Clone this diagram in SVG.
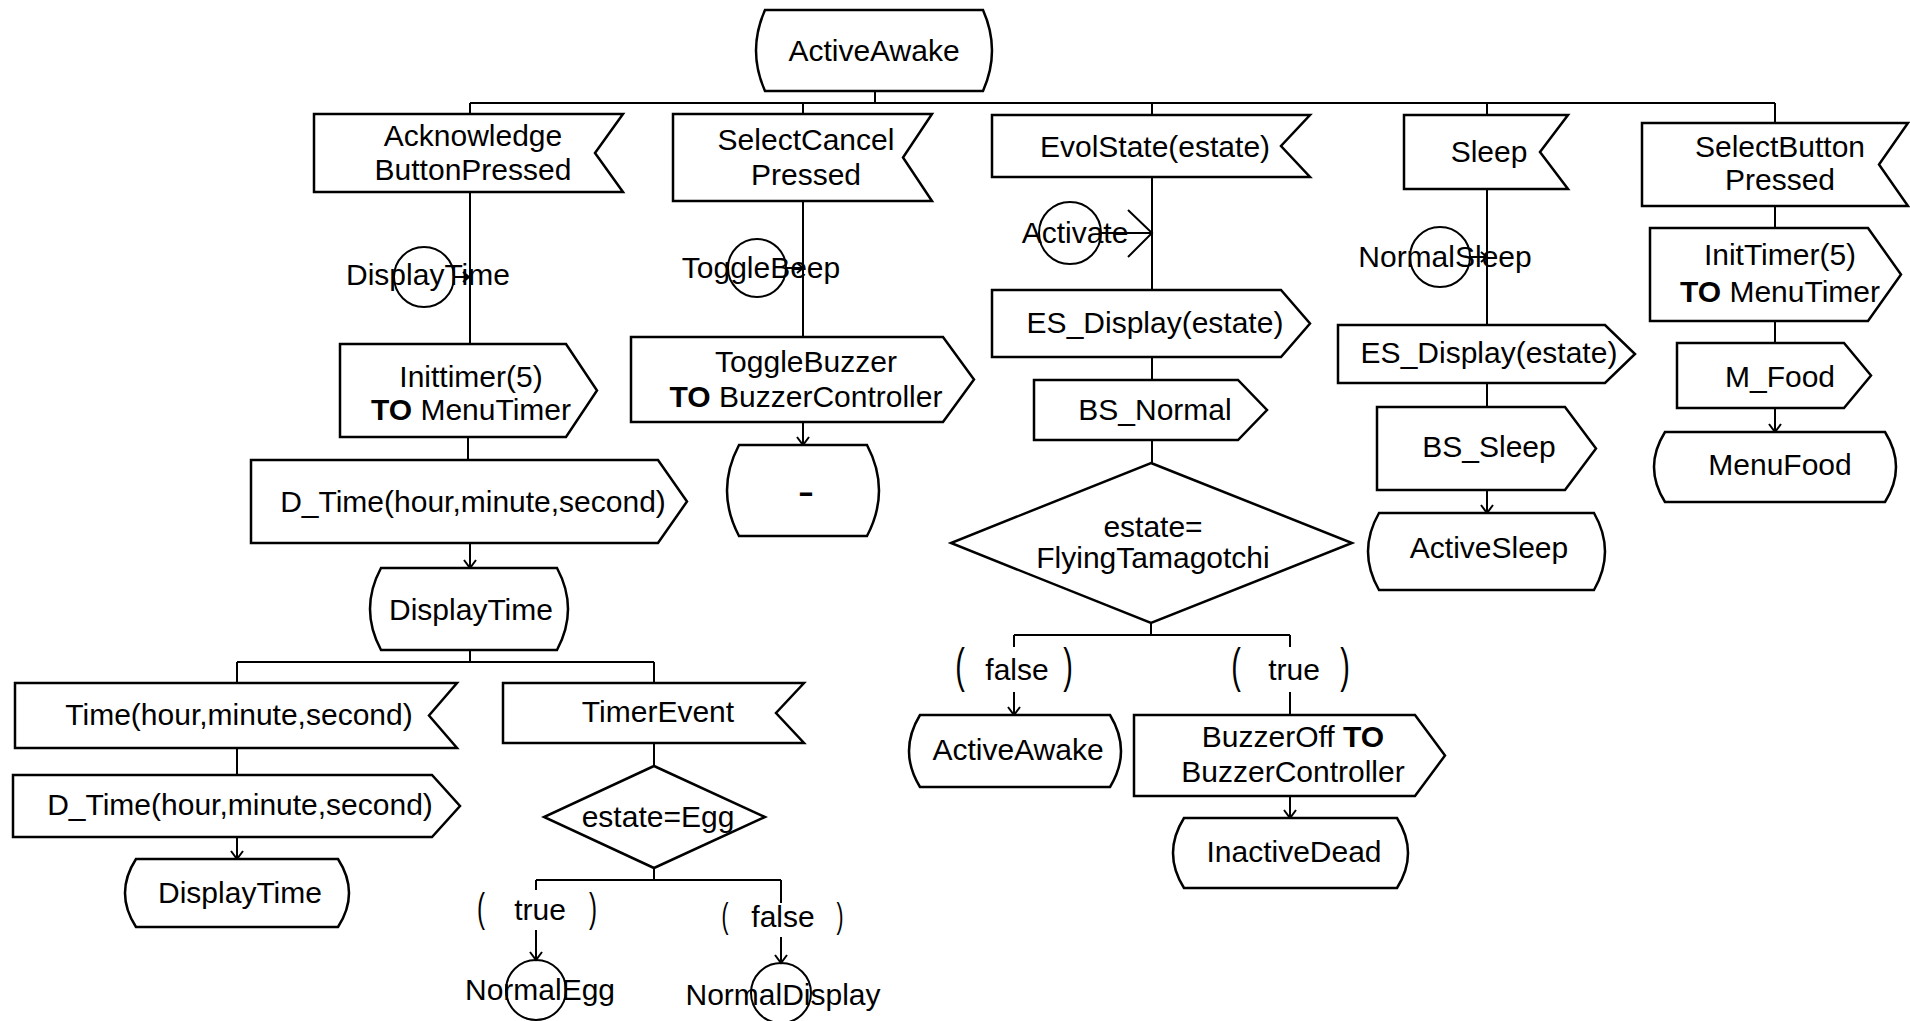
<svg xmlns="http://www.w3.org/2000/svg" width="1910" height="1021" viewBox="0 0 1910 1021">
<style>
.s{fill:#fff;stroke:#000;stroke-width:2.5;stroke-linejoin:miter}
.c{fill:none;stroke:#000;stroke-width:2}
.ln{fill:none;stroke:#000;stroke-width:2}
.t{font-family:"Liberation Sans",Arial,sans-serif;font-size:30px;text-anchor:middle;fill:#000}
.b{font-weight:bold}
.p{font-family:"Liberation Sans",Arial,sans-serif;text-anchor:middle;fill:#000}
</style>
<defs>
<marker id="arr" markerUnits="userSpaceOnUse" markerWidth="20" markerHeight="20" refX="10" refY="10" orient="auto">
<path d="M2,4 L10,10 L2,16" fill="none" stroke="#000" stroke-width="2"/>
</marker>
<marker id="arrs" markerUnits="userSpaceOnUse" markerWidth="20" markerHeight="20" refX="10" refY="10" orient="auto">
<path d="M4,5 L10,10 L4,15" fill="none" stroke="#000" stroke-width="2"/>
</marker>
</defs>
<rect width="1910" height="1021" fill="#fff"/>

<g id="connectors">
<path class="ln" d="M875,91 V103 M470,103 H1775 M470,103 V114 M803,103 V114 M1152,103 V115 M1487,103 V115 M1775,103 V123"/>
<path class="ln" d="M470,192 V344"/>
<path class="ln" d="M454,277 H469" marker-end="url(#arrs)"/>
<path class="ln" d="M468,437 V460"/>
<path class="ln" d="M470,543 V568" marker-end="url(#arr)"/>
<path class="ln" d="M470,650 V662 M237,662 H654 M237,662 V683 M654,662 V683"/>
<path class="ln" d="M237,748 V775"/>
<path class="ln" d="M237,837 V859" marker-end="url(#arr)"/>
<path class="ln" d="M654,743 V766 M654,868 V880 M536,880 H781 M536,880 V890 M781,880 V903"/>
<path class="ln" d="M536,930 V960" marker-end="url(#arr)"/>
<path class="ln" d="M781,937 V963" marker-end="url(#arr)"/>
<path class="ln" d="M803,201 V337"/>
<path class="ln" d="M787,268 H803" marker-end="url(#arrs)"/>
<path class="ln" d="M803,422 V445" marker-end="url(#arr)"/>
<path class="ln" d="M1152,177 V290 M1101,233 H1152 M1128,210 L1152,233 L1128,257"/>
<path class="ln" d="M1152,357 V380 M1152,440 V463 M1151,623 V635 M1014,635 H1290 M1014,635 V647 M1290,635 V647 M1290,692 V715"/>
<path class="ln" d="M1014,692 V715" marker-end="url(#arr)"/>
<path class="ln" d="M1290,796 V818" marker-end="url(#arr)"/>
<path class="ln" d="M1487,189 V325"/>
<path class="ln" d="M1470,257 H1487" marker-end="url(#arrs)"/>
<path class="ln" d="M1487,383 V407"/>
<path class="ln" d="M1487,490 V513" marker-end="url(#arr)"/>
<path class="ln" d="M1775,206 V228 M1775,321 V343"/>
<path class="ln" d="M1775,408 V432" marker-end="url(#arr)"/>
</g>

<g id="state-activeawake">
<path class="s" d="M765,10 H983 Q1001,50.5 983,91 H765 Q747,50.5 765,10 Z"/>
<text class="t" x="874" y="61">ActiveAwake</text>
</g>

<g id="in-acknowledge">
<polygon class="s" points="314,114 623,114 595,153 623,192 314,192"/>
<text class="t" x="473" y="146">Acknowledge</text>
<text class="t" x="473" y="180">ButtonPressed</text>
</g>

<g id="join-displaytime">
<circle class="c" cx="424" cy="277" r="30"/>
<text class="t" x="428" y="285">DisplayTime</text>
</g>

<g id="out-inittimer">
<polygon class="s" points="340,344 566,344 597,390.5 566,437 340,437"/>
<text class="t" x="471" y="387">Inittimer(5)</text>
<text class="t" x="471" y="420"><tspan class="b">TO</tspan> MenuTimer</text>
</g>

<g id="out-dtime1">
<polygon class="s" points="251,460 658,460 687,501.5 658,543 251,543"/>
<text class="t" x="473" y="512">D_Time(hour,minute,second)</text>
</g>

<g id="state-displaytime1">
<path class="s" d="M381,568 H557 Q579,609 557,650 H381 Q359,609 381,568 Z"/>
<text class="t" x="471" y="620">DisplayTime</text>
</g>

<g id="in-time">
<polygon class="s" points="15,683 457,683 429,715.5 457,748 15,748"/>
<text class="t" x="239" y="725">Time(hour,minute,second)</text>
</g>

<g id="in-timerevent">
<polygon class="s" points="503,683 804,683 776,713 804,743 503,743"/>
<text class="t" x="658" y="722">TimerEvent</text>
</g>

<g id="out-dtime2">
<polygon class="s" points="13,775 432,775 460,806 432,837 13,837"/>
<text class="t" x="240" y="815">D_Time(hour,minute,second)</text>
</g>

<g id="state-displaytime2">
<path class="s" d="M136,859 H338 Q360,893 338,927 H136 Q114,893 136,859 Z"/>
<text class="t" x="240" y="903">DisplayTime</text>
</g>

<g id="dec-egg">
<polygon class="s" points="654,766 765,817 654,868 544,817"/>
<text class="t" x="658" y="827">estate=Egg</text>
</g>

<g id="ans-true-egg">
<text class="p" font-size="40" transform="translate(481,922) scale(0.6,1)">(</text>
<text class="t" x="540" y="920">true</text>
<text class="p" font-size="40" transform="translate(593,922) scale(0.6,1)">)</text>
</g>

<g id="ans-false-egg">
<text class="p" font-size="35" transform="translate(725,928) scale(0.6,1)">(</text>
<text class="t" x="783" y="927">false</text>
<text class="p" font-size="35" transform="translate(840,928) scale(0.6,1)">)</text>
</g>

<g id="join-normalegg">
<circle class="c" cx="536" cy="990" r="30"/>
<text class="t" x="540" y="1000">NormalEgg</text>
</g>

<g id="join-normaldisplay">
<circle class="c" cx="781" cy="993" r="30"/>
<text class="t" x="783" y="1005">NormalDisplay</text>
</g>

<g id="in-selectcancel">
<polygon class="s" points="673,114 932,114 903,157.5 932,201 673,201"/>
<text class="t" x="806" y="150">SelectCancel</text>
<text class="t" x="806" y="185">Pressed</text>
</g>

<g id="join-togglebeep">
<circle class="c" cx="757" cy="268" r="29"/>
<text class="t" x="761" y="278">ToggleBeep</text>
</g>

<g id="out-togglebuzzer">
<polygon class="s" points="631,337 943,337 974,379.5 943,422 631,422"/>
<text class="t" x="806" y="372">ToggleBuzzer</text>
<text class="t" x="806" y="407"><tspan class="b">TO</tspan> BuzzerController</text>
</g>

<g id="state-dash">
<path class="s" d="M739,445 H867 Q891,490.5 867,536 H739 Q715,490.5 739,445 Z"/>
<text class="t b" x="806" y="502" textLength="16" lengthAdjust="spacingAndGlyphs">-</text>
</g>

<g id="in-evolstate">
<polygon class="s" points="992,115 1310,115 1281,146 1310,177 992,177"/>
<text class="t" x="1155" y="157">EvolState(estate)</text>
</g>

<g id="join-activate">
<circle class="c" cx="1070" cy="233" r="31"/>
<text class="t" x="1075" y="243">Activate</text>
</g>

<g id="out-esdisplay1">
<polygon class="s" points="992,290 1281,290 1310,323.5 1281,357 992,357"/>
<text class="t" x="1155" y="333">ES_Display(estate)</text>
</g>

<g id="out-bsnormal">
<polygon class="s" points="1034,380 1238,380 1267,410 1238,440 1034,440"/>
<text class="t" x="1155" y="420">BS_Normal</text>
</g>

<g id="dec-flying">
<polygon class="s" points="1151,463 1352,543 1151,623 951,543"/>
<text class="t" x="1153" y="537">estate=</text>
<text class="t" x="1153" y="568">FlyingTamagotchi</text>
</g>

<g id="ans-false-flying">
<text class="p" font-size="48" transform="translate(960,682) scale(0.6,1)">(</text>
<text class="t" x="1017" y="680">false</text>
<text class="p" font-size="48" transform="translate(1068,682) scale(0.6,1)">)</text>
</g>

<g id="ans-true-flying">
<text class="p" font-size="48" transform="translate(1236,682) scale(0.6,1)">(</text>
<text class="t" x="1294" y="680">true</text>
<text class="p" font-size="48" transform="translate(1345,682) scale(0.6,1)">)</text>
</g>

<g id="state-activeawake2">
<path class="s" d="M920,715 H1110 Q1132,751 1110,787 H920 Q898,751 920,715 Z"/>
<text class="t" x="1018" y="760">ActiveAwake</text>
</g>

<g id="out-buzzeroff">
<polygon class="s" points="1134,715 1415,715 1445,755.5 1415,796 1134,796"/>
<text class="t" x="1293" y="747">BuzzerOff <tspan class="b">TO</tspan></text>
<text class="t" x="1293" y="782">BuzzerController</text>
</g>

<g id="state-inactivedead">
<path class="s" d="M1184,818 H1397 Q1419,853 1397,888 H1184 Q1162,853 1184,818 Z"/>
<text class="t" x="1294" y="862">InactiveDead</text>
</g>

<g id="in-sleep">
<polygon class="s" points="1404,115 1568,115 1540,152 1568,189 1404,189"/>
<text class="t" x="1489" y="162">Sleep</text>
</g>

<g id="join-normalsleep">
<circle class="c" cx="1440" cy="257" r="30"/>
<text class="t" x="1445" y="267">NormalSleep</text>
</g>

<g id="out-esdisplay2">
<polygon class="s" points="1338,325 1605,325 1635,354 1605,383 1338,383"/>
<text class="t" x="1489" y="363">ES_Display(estate)</text>
</g>

<g id="out-bssleep">
<polygon class="s" points="1377,407 1565,407 1596,448.5 1565,490 1377,490"/>
<text class="t" x="1489" y="457">BS_Sleep</text>
</g>

<g id="state-activesleep">
<path class="s" d="M1379,513 H1594 Q1616,551.5 1594,590 H1379 Q1357,551.5 1379,513 Z"/>
<text class="t" x="1489" y="558">ActiveSleep</text>
</g>

<g id="in-selectbutton">
<polygon class="s" points="1642,123 1908,123 1879,164.5 1908,206 1642,206"/>
<text class="t" x="1780" y="157">SelectButton</text>
<text class="t" x="1780" y="190">Pressed</text>
</g>

<g id="out-inittimer2">
<polygon class="s" points="1650,228 1868,228 1901,274.5 1868,321 1650,321"/>
<text class="t" x="1780" y="265">InitTimer(5)</text>
<text class="t" x="1780" y="302"><tspan class="b">TO</tspan> MenuTimer</text>
</g>

<g id="out-mfood">
<polygon class="s" points="1677,343 1844,343 1871,375.5 1844,408 1677,408"/>
<text class="t" x="1780" y="387">M_Food</text>
</g>

<g id="state-menufood">
<path class="s" d="M1665,432 H1885 Q1907,467 1885,502 H1665 Q1643,467 1665,432 Z"/>
<text class="t" x="1780" y="475">MenuFood</text>
</g>
</svg>
